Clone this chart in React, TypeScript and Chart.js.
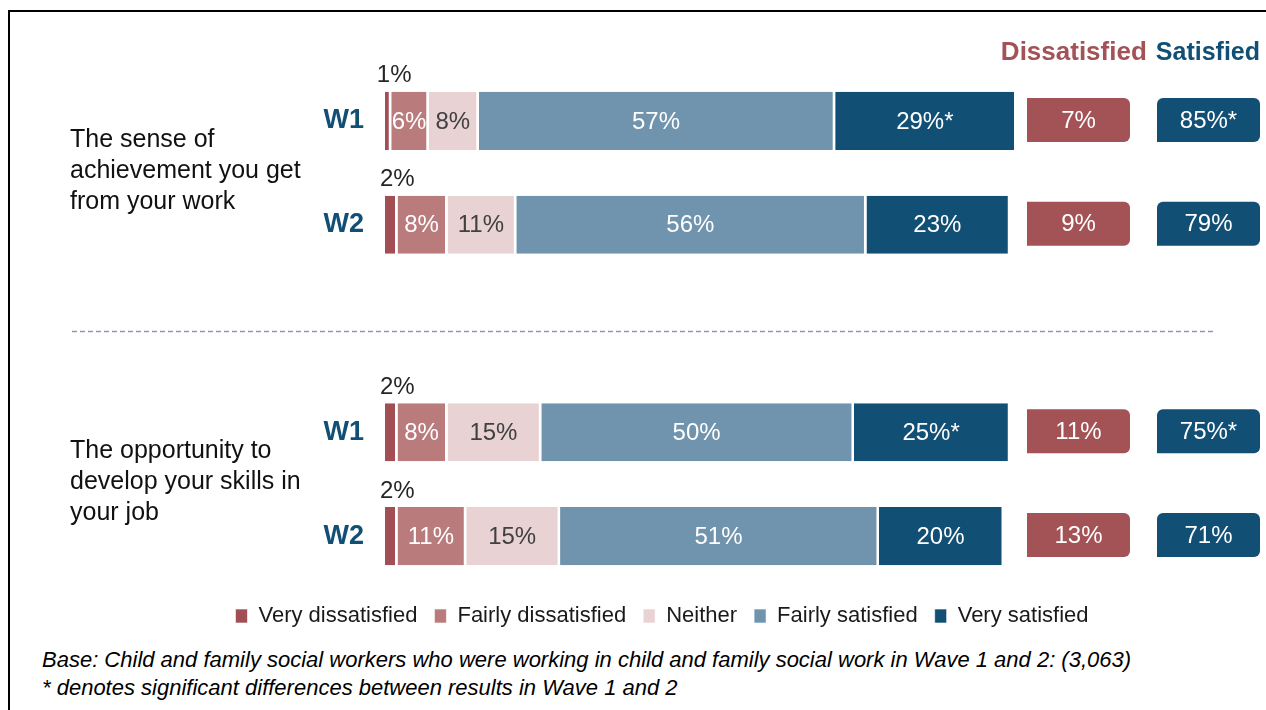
import React, { useEffect, useRef } from "react";
import { Chart, registerables } from "chart.js";

Chart.register(...registerables);

const FONT = "'Liberation Sans', Arial, sans-serif";

const categories = ["W1", "W2", "", "W1", "W2"];
const groupLabels = [
  ["The sense of", "achievement you get", "from your work"],
  ["The opportunity to", "develop your skills in", "your job"],
];
const seriesNames = ["Very dissatisfied", "Fairly dissatisfied", "Neither", "Fairly satisfied", "Very satisfied"];
const veryDissatisfied = [1, 2, null, 2, 2];
const fairlyDissatisfied = [6, 8, null, 8, 11];
const neither = [8, 11, null, 15, 15];
const fairlySatisfied = [57, 56, null, 50, 51];
const verySatisfied = [29, 23, null, 25, 20];
const verySatisfiedSig = [true, false, false, true, false];
const dissatisfiedTotal = [7, 9, null, 11, 13];
const satisfiedTotal = [85, 79, null, 75, 71];
const satisfiedSig = [true, false, false, true, false];
const footnotes = [
  "Base: Child and family social workers who were working in child and family social work in Wave 1 and 2: (3,063)",
  "* denotes significant differences between results in Wave 1 and 2",
];

const seriesColors = ["#A14F55", "#BA7B7D", "#E8D2D4", "#7094AD", "#124F75"];
const labelColors = ["#262626", "#FFFFFF", "#404040", "#FFFFFF", "#FFFFFF"];
const DISS_COLOR = "#A35256";
const SAT_COLOR = "#124F75";

const X_MAX = 140.9;

const overlayPlugin = {
  id: "overlay",
  afterDatasetsDraw(chart: any) {
    const { ctx, chartArea } = chart;
    const yScale = chart.scales.y;
    ctx.save();

    // segment labels
    ctx.textAlign = "center";
    ctx.textBaseline = "middle";
    ctx.font = `24px ${FONT}`;
    chart.data.datasets.forEach((ds: any, di: number) => {
      const meta = chart.getDatasetMeta(di);
      meta.data.forEach((el: any, i: number) => {
        const v = ds.data[i];
        if (v == null) return;
        const p = el.getProps(["x", "base", "y", "height"], true);
        let text = v + "%";
        if (di === 4 && verySatisfiedSig[i]) text += "*";
        const cx = (p.x + p.base) / 2 - 1;
        ctx.fillStyle = labelColors[di];
        if (di === 0) {
          ctx.fillText(text, cx + 7, p.y - p.height / 2 - 16);
        } else {
          ctx.fillText(text, cx, p.y + 1);
        }
      });
    });

    // summary boxes
    const boxW = 103;
    const boxH = 44;
    const dissX = chartArea.right - 239;
    const satX = chartArea.right - 109;
    for (let i = 0; i < categories.length; i++) {
      if (dissatisfiedTotal[i] == null) continue;
      const cy = yScale.getPixelForValue(i) - 1;
      ctx.fillStyle = DISS_COLOR;
      ctx.beginPath();
      ctx.roundRect(dissX, cy - boxH / 2, boxW, boxH, [0, 6, 6, 0]);
      ctx.fill();
      ctx.fillStyle = SAT_COLOR;
      ctx.beginPath();
      ctx.roundRect(satX, cy - boxH / 2, boxW, boxH, [6, 6, 6, 0]);
      ctx.fill();
      ctx.fillStyle = "#FFFFFF";
      ctx.font = `24px ${FONT}`;
      ctx.fillText(dissatisfiedTotal[i] + "%", dissX + boxW / 2, cy + 1);
      ctx.fillText(satisfiedTotal[i] + "%" + (satisfiedSig[i] ? "*" : ""), satX + boxW / 2, cy + 1);
    }

    // column headers
    ctx.font = `bold 25px ${FONT}`;
    ctx.textAlign = "right";
    const satRight = satX + boxW;
    ctx.fillStyle = SAT_COLOR;
    ctx.fillText("Satisfied", satRight, 53);
    const satWidth = ctx.measureText("Satisfied").width;
    ctx.font = `bold 26px ${FONT}`;
    ctx.fillStyle = DISS_COLOR;
    ctx.fillText("Dissatisfied", satRight - satWidth - 9, 53);

    // group labels
    ctx.font = `25px ${FONT}`;
    ctx.textAlign = "left";
    ctx.fillStyle = "#111111";
    const pairs = [
      [0, 1],
      [3, 4],
    ];
    pairs.forEach((pr, g) => {
      const mid = (yScale.getPixelForValue(pr[0]) + yScale.getPixelForValue(pr[1])) / 2 - 2;
      groupLabels[g].forEach((line, k) => {
        ctx.fillText(line, 70, mid + (k - 1) * 31);
      });
    });

    // dashed separator
    const sepY = yScale.getPixelForValue(2) + 3;
    ctx.strokeStyle = "#8A9DAE";
    ctx.lineWidth = 1.5;
    ctx.setLineDash([5, 3]);
    ctx.beginPath();
    ctx.moveTo(72, sepY);
    ctx.lineTo(1216, sepY);
    ctx.stroke();

    ctx.restore();
  },
};

export default function App() {
  const canvasRef = useRef<HTMLCanvasElement | null>(null);

  useEffect(() => {
    if (!canvasRef.current) return;
    const allData = [veryDissatisfied, fairlyDissatisfied, neither, fairlySatisfied, verySatisfied];
    const chart = new Chart(canvasRef.current, {
      type: "bar",
      data: {
        labels: categories,
        datasets: allData.map((d, i) => ({
          label: seriesNames[i],
          data: d,
          backgroundColor: seriesColors[i],
          borderColor: "#FFFFFF",
          borderWidth: { left: 0, right: 2.5, top: 0, bottom: 0 },
          borderSkipped: false,
          barPercentage: 0.56,
          categoryPercentage: 1,
        })),
      },
      options: {
        indexAxis: "y",
        responsive: false,
        animation: false,
        events: [],
        devicePixelRatio: 1,
        layout: { padding: { left: 58, top: 69, right: 0, bottom: 0 } },
        scales: {
          x: {
            stacked: true,
            display: false,
            min: 0,
            max: X_MAX,
          },
          y: {
            stacked: true,
            grid: { display: false, drawTicks: false },
            border: { display: false },
            ticks: {
              padding: 21,
              color: "#124F75",
              font: { family: FONT, size: 27, weight: "bold" },
            },
            afterFit(scale: any) {
              scale.width = 327;
            },
          },
        },
        plugins: {
          legend: {
            position: "bottom",
            labels: {
              font: { family: FONT, size: 22 },
              color: "#1A1A1A",
              boxWidth: 12,
              boxHeight: 14,
              padding: 17,
            },
          },
          tooltip: { enabled: false },
        },
      },
      plugins: [overlayPlugin],
    } as any);
    return () => chart.destroy();
  }, []);

  return (
    <div
      style={{
        position: "fixed",
        left: 0,
        top: 0,
        width: 1266,
        height: 710,
        overflow: "hidden",
        background: "#FFFFFF",
      }}
    >
      <div
        style={{
          position: "absolute",
          left: 8,
          top: 10,
          width: 1270,
          height: 720,
          border: "2px solid #000000",
          boxSizing: "border-box",
        }}
      />
      <canvas
        ref={canvasRef}
        width={1266}
        height={637}
        style={{ position: "absolute", left: 0, top: 0, width: 1266, height: 637 }}
      />
      <div
        style={{
          position: "absolute",
          left: 42,
          top: 646,
          fontFamily: FONT,
          fontStyle: "italic",
          fontSize: 22,
          lineHeight: "28px",
          color: "#000000",
          whiteSpace: "nowrap",
        }}
      >
        {footnotes.map((t, i) => (
          <div key={i}>{t}</div>
        ))}
      </div>
    </div>
  );
}
